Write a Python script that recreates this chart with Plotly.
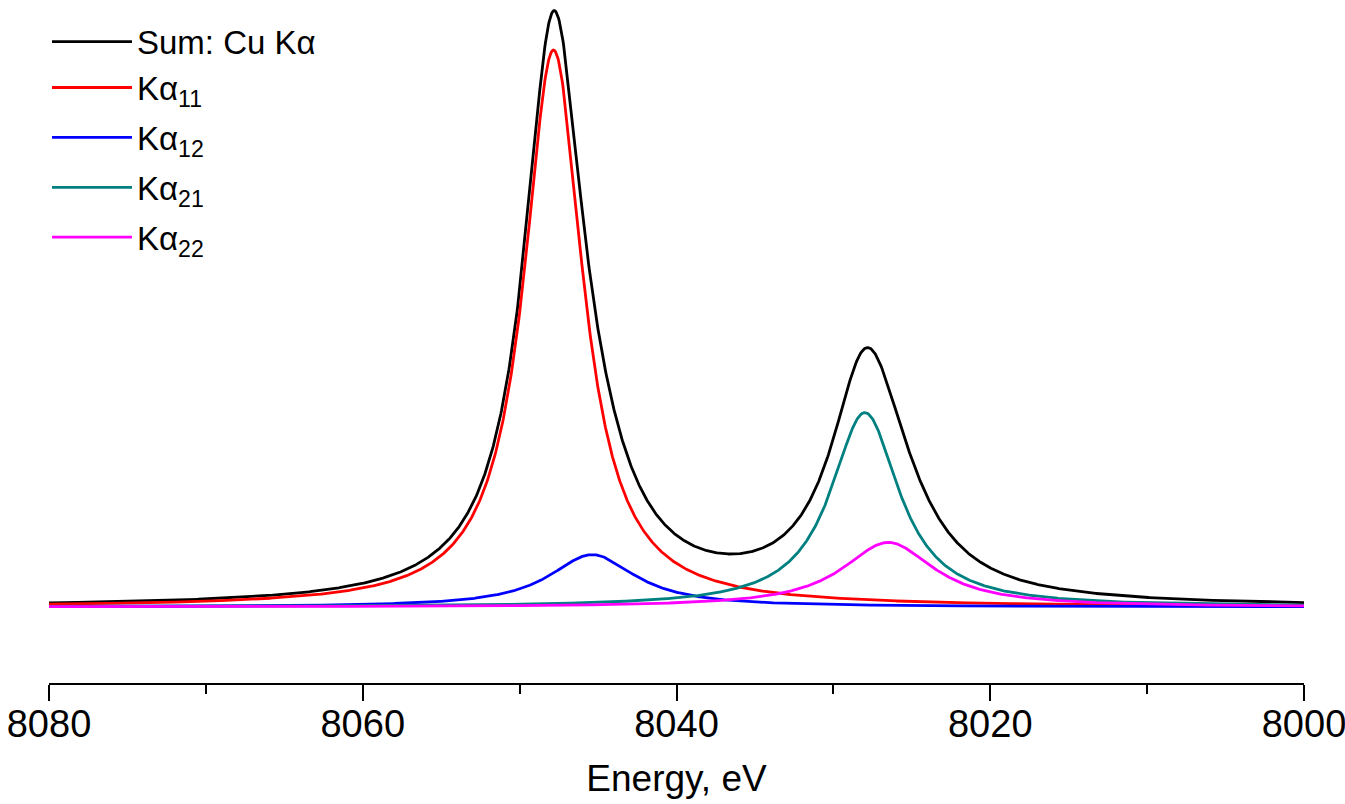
import numpy as np
import plotly.graph_objects as go

# Cu K-alpha emission components: centre energy (eV), peak height, half width (eV)
line_names = ["Kα<sub>11</sub>", "Kα<sub>12</sub>", "Kα<sub>21</sub>", "Kα<sub>22</sub>"]
line_centers = [8047.84, 8045.37, 8027.99, 8026.50]
line_heights = [0.957, 0.090, 0.334, 0.111]
line_halfwidths = [2.285, 3.358, 2.666, 3.571]
line_colors = ["#ff0000", "#0000ff", "#008080", "#ff00ff"]
line_groups = ["g1", "g2", "g3", "g4"]

x_ticks = [8080, 8060, 8040, 8020, 8000]

energy = np.linspace(8000, 8080, 2001)


def lorentzian(e, center, height, halfwidth):
    return height / (1.0 + ((e - center) / halfwidth) ** 2)


components = [
    lorentzian(energy, c, h, w)
    for c, h, w in zip(line_centers, line_heights, line_halfwidths)
]
total = np.sum(components, axis=0)

fig = go.Figure()
fig.add_trace(go.Scatter(
    x=energy, y=total, mode="lines", name="Sum: Cu Kα", legendgroup="g1",
    line=dict(color="#000000", width=2.8),
))
for name, comp, color, grp in zip(line_names, components, line_colors, line_groups):
    fig.add_trace(go.Scatter(
        x=energy, y=comp, mode="lines", name=name, legendgroup=grp,
        line=dict(color=color, width=2.8),
    ))

tick_font = dict(family="Liberation Sans, Arial", size=38, color="#000000")
title_font = dict(family="Liberation Sans, Arial", size=37, color="#000000")

fig.update_layout(
    width=1345, height=804,
    paper_bgcolor="white", plot_bgcolor="white",
    margin=dict(l=49, r=41, t=0, b=121, autoexpand=False),
    showlegend=True,
    legend=dict(
        x=-0.0016, y=0.98, xref="paper", yref="paper",
        xanchor="left", yanchor="top",
        bgcolor="rgba(0,0,0,0)",
        font=dict(family="Liberation Sans, Arial", size=33, color="#000000"),
        itemwidth=80, tracegroupgap=4,
    ),
    xaxis=dict(
        range=[8080, 8000], tickvals=x_ticks,
        showline=True, linecolor="#000000", linewidth=2,
        ticks="outside", ticklen=16, tickwidth=2, tickcolor="#000000",
        minor=dict(dtick=10, tick0=8000, ticks="outside", ticklen=9,
                   tickwidth=2, tickcolor="#000000", showgrid=False),
        showgrid=False, zeroline=False,
        tickfont=tick_font, ticklabeloverflow="allow",
        ticklabelstandoff=-10,
        title=dict(text="Energy, eV", font=title_font, standoff=22),
    ),
    yaxis=dict(
        range=[-0.1306, 1.043], visible=False,
        showgrid=False, zeroline=False,
    ),
)

fig.write_html("out.html")
